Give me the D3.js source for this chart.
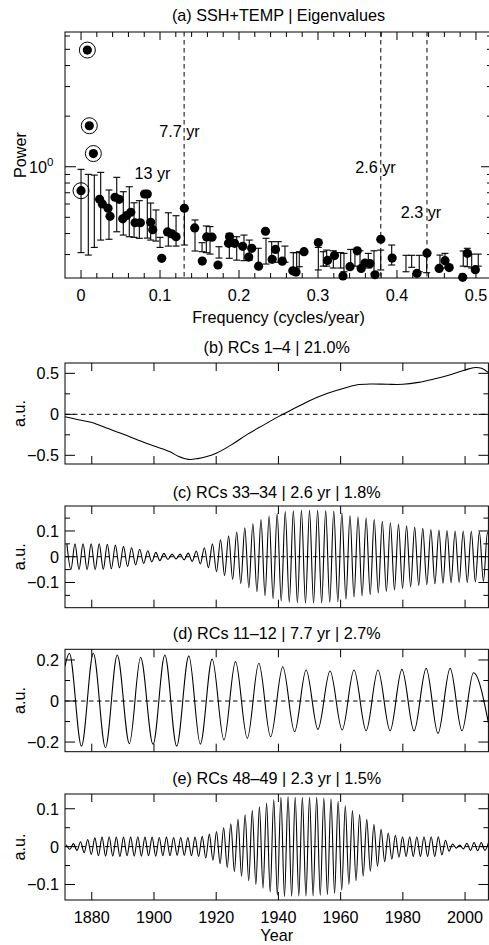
<!DOCTYPE html>
<html><head><meta charset="utf-8">
<script src="https://cdn.jsdelivr.net/npm/d3@7"></script>
<style>
html,body{margin:0;padding:0;background:#fff;}
svg{display:block;font-family:"Liberation Sans",Arial,Helvetica,sans-serif;}
</style></head><body>
<svg id="chart" width="489" height="945"></svg>
<script>
// ---------------- DATA ----------------
// (a) eigenvalue spectrum
const eigFreq  = [0.000,0.008,0.0105,0.0156,0.0235,0.0270,0.0342,0.0367,0.0430,0.0484,0.0528,0.0578,0.0630,0.0684,0.0751,0.0804,0.0839,0.0882,0.0908,0.1022,0.1095,0.1152,0.1203,0.1308,0.1439,0.1535,0.1591,0.1658,0.1734,0.1867,0.1880,0.1944,0.2047,0.2123,0.2161,0.2248,0.2335,0.2420,0.2462,0.2548,0.2681,0.2722,0.2823,0.3004,0.3120,0.3209,0.3316,0.3405,0.3497,0.3547,0.3595,0.3658,0.3722,0.3795,0.3939,0.4253,0.4380,0.4534,0.4608,0.4661,0.4832,0.4892,0.4992];
const eigPower = [0.720,4.95,1.754,1.198,0.640,0.600,0.566,0.507,0.658,0.640,0.490,0.512,0.536,0.464,0.464,0.688,0.688,0.467,0.422,0.285,0.409,0.398,0.383,0.566,0.432,0.2745,0.382,0.381,0.260,0.350,0.383,0.350,0.336,0.290,0.327,0.256,0.413,0.281,0.322,0.274,0.240,0.236,0.312,0.354,0.277,0.296,0.2236,0.254,0.316,0.248,0.267,0.265,0.2275,0.370,0.286,0.232,0.306,0.248,0.276,0.251,0.2196,0.305,0.244];
const eigCircled = [true,true,true,true];
const barFreq = [0.000,0.0092,0.0168,0.0249,0.0354,0.0452,0.0535,0.0611,0.0671,0.0738,0.0839,0.0882,0.0949,0.1000,0.1105,0.1203,0.1308,0.1443,0.1532,0.1586,0.1633,0.1747,0.1877,0.1971,0.2063,0.2130,0.2244,0.2342,0.2414,0.2497,0.2582,0.2687,0.2730,0.2763,0.3004,0.3067,0.3110,0.3194,0.3287,0.3329,0.3414,0.3468,0.3532,0.3637,0.3709,0.3794,0.3933,0.4114,0.4186,0.4282,0.4376,0.4544,0.4608,0.4839,0.4890,0.4946,0.5029];
const barLo   = [0.308,0.298,0.331,0.366,0.370,0.410,0.392,0.383,0.380,0.375,0.376,0.366,0.361,0.331,0.337,0.337,0.342,0.315,0.312,0.308,0.302,0.286,0.285,0.278,0.276,0.278,0.252,0.2635,0.271,0.270,0.270,0.239,0.2495,0.254,0.243,0.256,0.256,0.2495,0.2495,0.237,0.2495,0.256,0.253,0.2495,0.232,0.243,0.260,0.237,0.252,0.237,0.234,0.2495,0.2495,0.256,0.254,0.2495,0.256];
const barHi   = [0.965,0.901,0.892,0.926,0.727,0.865,0.710,0.760,0.610,0.628,0.707,0.608,0.553,0.380,0.532,0.511,0.568,0.482,0.353,0.444,0.440,0.334,0.401,0.383,0.392,0.366,0.327,0.375,0.358,0.358,0.337,0.308,0.308,0.312,0.331,0.312,0.319,0.316,0.308,0.305,0.322,0.322,0.316,0.305,0.316,0.319,0.342,0.297,0.297,0.297,0.308,0.298,0.305,0.315,0.327,0.302,0.302];
const periodLineFreq = [0.1305,0.3795,0.438];
const freqTickLabels = ["0","0.1","0.2","0.3","0.4","0.5"];

// (b) RCs 1-4 trend
const trendYears = [1871.4,1875,1880,1885,1890,1895,1900,1905,1908,1911,1914,1917,1920,1925,1930,1935,1940,1945,1950,1955,1960,1965,1970,1975,1980,1985,1990,1995,2000,2002.7,2005.3,2007.5];
const trendVals  = [-0.03,-0.06,-0.10,-0.17,-0.24,-0.315,-0.386,-0.455,-0.515,-0.55,-0.54,-0.515,-0.475,-0.37,-0.245,-0.135,-0.028,0.07,0.167,0.245,0.305,0.358,0.37,0.366,0.366,0.39,0.431,0.48,0.54,0.569,0.561,0.508];

// (c) RCs 33-34, extrema every half period starting at cStart
const cStart = 1872.0, cHalf = 1.3;
const cExtrema = [0.05,-0.05,0.05,-0.05,0.05,-0.05,0.05,-0.05,0.05,-0.049,
0.048,-0.047,0.045,-0.043,0.04,-0.038,0.035,-0.032,0.029,-0.026,
0.023,-0.02,0.017,-0.015,0.013,-0.011,0.01,-0.009,0.01,-0.012,
0.014,-0.018,0.022,-0.028,0.035,-0.043,0.05,-0.058,0.066,-0.073,
0.08,-0.088,0.096,-0.104,0.112,-0.12,0.128,-0.136,0.144,-0.151,
0.158,-0.163,0.168,-0.172,0.175,-0.177,0.178,-0.179,0.18,-0.18,
0.18,-0.18,0.18,-0.18,0.179,-0.178,0.177,-0.175,0.17,-0.165,
0.16,-0.157,0.155,-0.152,0.15,-0.147,0.144,-0.141,0.138,-0.135,
0.132,-0.129,0.126,-0.123,0.12,-0.117,0.115,-0.112,0.11,-0.108,
0.106,-0.105,0.104,-0.103,0.102,-0.101,0.1,-0.1,0.1,-0.1,
0.099,-0.098,0.097,-0.096,0.095,-0.095];

// (d) RCs 11-12 extrema [year, value]
const dYears = [1871.4,1872.8,1876.7,1880.5,1884.4,1888.2,1892.1,1895.7,1899.7,1903.5,1907.3,1911.2,1914.9,1918.7,1922.5,1926.2,1930.0,1933.7,1937.5,1941.4,1945.2,1948.9,1952.7,1956.6,1960.5,1964.3,1968.2,1972.0,1975.9,1979.7,1983.6,1987.5,1991.3,1995.2,1999.0,2002.7,2007.5];
const dVals  = [0.17,0.233,-0.22,0.233,-0.228,0.224,-0.208,0.213,-0.211,0.224,-0.22,0.22,-0.21,0.205,-0.19,0.192,-0.182,0.184,-0.174,0.167,-0.15,0.151,-0.138,0.146,-0.141,0.151,-0.145,0.151,-0.145,0.154,-0.146,0.159,-0.158,0.159,-0.145,0.138,-0.105];

// (e) RCs 48-49 extrema
const eStart = 1871.8, eHalf = 1.15;
const eExtrema = [0.005,-0.007,0.008,-0.01,0.013,-0.016,0.019,-0.021,0.023,-0.024,
0.025,-0.025,0.026,-0.025,0.025,-0.026,0.025,-0.024,0.025,-0.025,
0.026,-0.025,0.025,-0.024,0.025,-0.025,0.024,-0.024,0.025,-0.024,
0.024,-0.023,0.024,-0.023,0.024,-0.024,0.025,-0.026,0.027,-0.03,
0.033,-0.036,0.04,-0.045,0.05,-0.055,0.06,-0.066,0.072,-0.078,
0.084,-0.09,0.095,-0.1,0.105,-0.11,0.115,-0.12,0.124,-0.128,
0.13,-0.132,0.132,-0.131,0.13,-0.13,0.13,-0.13,0.13,-0.13,
0.13,-0.129,0.128,-0.127,0.126,-0.124,0.12,-0.115,0.108,-0.1,
0.095,-0.09,0.085,-0.078,0.072,-0.065,0.058,-0.052,0.046,-0.04,
0.036,-0.033,0.03,-0.028,0.026,-0.026,0.026,-0.026,0.026,-0.026,
0.026,-0.026,0.026,-0.026,0.026,-0.022,0.017,-0.012,0.007,-0.004,
0.004,-0.006,0.009,-0.01,0.011,-0.011,0.011,-0.01,0.01];

const yearTicks = [1880,1900,1920,1940,1960,1980,2000];

// ---------------- DRAW ----------------
const svg = d3.select("#chart");
const FS = 16.2;
const fontPx = FS + "px";
const L = 65;

function txt(g, x, y, s, anchor, rot) {
  const t = g.append("text").attr("font-size", fontPx).attr("fill", "#000")
    .attr("text-anchor", anchor || "middle").text(s);
  if (rot) t.attr("transform", `translate(${x},${y}) rotate(${rot})`);
  else t.attr("x", x).attr("y", y);
  return t;
}
function fmt(v) { return v < 0 ? "\u2212" + Math.abs(v) : String(v); }

// ---- panel (a)
(function(){
  const top = 32, bottom = 278, R = 492;
  const x = d3.scaleLinear().domain([-0.0203, 0.5203]).range([L, R]);
  const y = d3.scaleLog().domain([0.2176, 6.34]).range([bottom, top]);
  const g = svg.append("g");
  txt(g, (L+R)/2, 21, "(a) SSH+TEMP | Eigenvalues");
  g.selectAll("line.pl").data(periodLineFreq).join("line")
    .attr("x1", d => x(d)).attr("x2", d => x(d)).attr("y1", top).attr("y2", bottom)
    .attr("stroke", "#000").attr("stroke-width", 1).attr("stroke-dasharray", "4.5,3.5");
  const bars = barFreq.map((f,i) => ({f, lo: barLo[i], hi: barHi[i]}));
  const bg = g.append("g").attr("stroke", "#000").attr("stroke-width", 1.1);
  bg.selectAll("line.v").data(bars).join("line")
    .attr("x1", d => x(d.f)).attr("x2", d => x(d.f)).attr("y1", d => y(d.lo)).attr("y2", d => y(d.hi));
  bg.selectAll("line.t").data(bars).join("line")
    .attr("x1", d => x(d.f)-3.5).attr("x2", d => x(d.f)+3.5).attr("y1", d => y(d.hi)).attr("y2", d => y(d.hi));
  bg.selectAll("line.b").data(bars).join("line")
    .attr("x1", d => x(d.f)-3.5).attr("x2", d => x(d.f)+3.5).attr("y1", d => y(d.lo)).attr("y2", d => y(d.lo));
  const pts = eigFreq.map((f,i) => ({f, p: eigPower[i], c: !!eigCircled[i]}));
  g.selectAll("circle.p").data(pts).join("circle")
    .attr("cx", d => x(d.f)).attr("cy", d => y(d.p)).attr("r", 4.6).attr("fill", "#000");
  g.selectAll("circle.r").data(pts.filter(d => d.c)).join("circle")
    .attr("cx", d => x(d.f)).attr("cy", d => y(d.p)).attr("r", 8).attr("fill", "none")
    .attr("stroke", "#000").attr("stroke-width", 1);
  txt(g, 179.5, 136.7, "7.7 yr");
  txt(g, 152.5, 179, "13 yr");
  txt(g, 375.5, 173, "2.6 yr");
  txt(g, 421, 217.7, "2.3 yr");
  g.append("rect").attr("x", L).attr("y", top).attr("width", R-L).attr("height", bottom-top)
    .attr("fill", "none").attr("stroke", "#000").attr("stroke-width", 1);
  const xMaj = d3.range(0, 0.51, 0.1), xMin = d3.range(0, 0.521, 0.02);
  const tg = g.append("g").attr("stroke", "#000").attr("stroke-width", 1);
  xMin.forEach(v => {
    const len = xMaj.some(m => Math.abs(m - v) < 1e-6) ? 8 : 5;
    tg.append("line").attr("x1", x(v)).attr("x2", x(v)).attr("y1", bottom).attr("y2", bottom - len);
    tg.append("line").attr("x1", x(v)).attr("x2", x(v)).attr("y1", top).attr("y2", top + len);
  });
  xMaj.forEach((v,i) => txt(g, x(v), 301, freqTickLabels[i]));
  const yMinor = [0.3,0.4,0.5,0.6,0.7,0.8,0.9,2,3,4,5,6];
  yMinor.forEach(v => {
    tg.append("line").attr("x1", L).attr("x2", L+5).attr("y1", y(v)).attr("y2", y(v));
    tg.append("line").attr("x1", R).attr("x2", R-5).attr("y1", y(v)).attr("y2", y(v));
  });
  tg.append("line").attr("x1", L).attr("x2", L+11).attr("y1", y(1)).attr("y2", y(1));
  tg.append("line").attr("x1", R).attr("x2", R-11).attr("y1", y(1)).attr("y2", y(1));
  const lab = g.append("text").attr("font-size", fontPx).attr("text-anchor", "end")
    .attr("x", 53.5).attr("y", y(1) + 6);
  lab.append("tspan").text("10");
  lab.append("tspan").attr("font-size", "11.5px").attr("dy", -7).text("0");
  txt(g, 25.5, (top+bottom)/2, "Power", "middle", -90);
  txt(g, (L+R)/2, 322.7, "Frequency (cycles/year)");
})();

// ---- time-series panels
const R2 = 488.4;
const xYear = d3.scaleLinear().domain([1871.4, 2007.5]).range([L, R2]);

function tsPanel(cfg) {
  const {top, bottom, dom, major, minor, title, titleY, data, id} = cfg;
  const y = d3.scaleLinear().domain(dom).range([bottom, top]);
  const g = svg.append("g");
  txt(g, (L+R2)/2, titleY, title);
  g.append("clipPath").attr("id", id).append("rect")
    .attr("x", L).attr("y", top).attr("width", R2-L).attr("height", bottom-top);
  g.append("line").attr("x1", L).attr("x2", R2).attr("y1", y(0)).attr("y2", y(0))
    .attr("stroke", "#000").attr("stroke-width", 1).attr("stroke-dasharray", "4.5,3.5");
  const line = d3.line().x(d => xYear(d[0])).y(d => y(d[1])).curve(cfg.curve);
  g.append("path").attr("clip-path", `url(#${id})`).datum(data).attr("d", line)
    .attr("fill", "none").attr("stroke", "#000").attr("stroke-width", 1.1);
  g.append("rect").attr("x", L).attr("y", top).attr("width", R2-L).attr("height", bottom-top)
    .attr("fill", "none").attr("stroke", "#000").attr("stroke-width", 1);
  const tg = g.append("g").attr("stroke", "#000").attr("stroke-width", 1);
  yearTicks.forEach(v => {
    tg.append("line").attr("x1", xYear(v)).attr("x2", xYear(v)).attr("y1", top).attr("y2", top + 8);
    tg.append("line").attr("x1", xYear(v)).attr("x2", xYear(v)).attr("y1", bottom).attr("y2", bottom - 8);
  });
  major.forEach(v => {
    tg.append("line").attr("x1", L).attr("x2", L+10).attr("y1", y(v)).attr("y2", y(v));
    tg.append("line").attr("x1", R2).attr("x2", R2-10).attr("y1", y(v)).attr("y2", y(v));
    txt(g, 59, y(v) + 6, fmt(v), "end");
  });
  minor.forEach(v => {
    tg.append("line").attr("x1", L).attr("x2", L+5).attr("y1", y(v)).attr("y2", y(v));
    tg.append("line").attr("x1", R2).attr("x2", R2-5).attr("y1", y(v)).attr("y2", y(v));
  });
  txt(g, 25, (top+bottom)/2, "a.u.", "middle", -90);
  if (cfg.xLabels) {
    yearTicks.forEach(v => txt(g, xYear(v), bottom + 22.7, String(v)));
    txt(g, (L+R2)/2, 941, "Year");
  }
}

tsPanel({id:"cb", top:363, bottom:464, dom:[-0.606,0.626], major:[-0.5,0,0.5], minor:[-0.25,0.25],
  title:"(b) RCs 1\u20134 | 21.0%", titleY:352.7,
  data: trendYears.map((t,i)=>[t, trendVals[i]]), curve: d3.curveCatmullRom});
tsPanel({id:"cc", top:506, bottom:607.7, dom:[-0.198,0.197], major:[-0.1,0,0.1], minor:[-0.15,-0.05,0.05,0.15],
  title:"(c) RCs 33\u201334 | 2.6 yr | 1.8%", titleY:497.7,
  data: cExtrema.map((v,i)=>[cStart + i*cHalf, v]), curve: d3.curveMonotoneX});
tsPanel({id:"cd", top:649.3, bottom:751.7, dom:[-0.247,0.252], major:[-0.2,0,0.2], minor:[-0.1,0.1],
  title:"(d) RCs 11\u201312 | 7.7 yr | 2.7%", titleY:639.3,
  data: dYears.map((t,i)=>[t, dVals[i]]), curve: d3.curveMonotoneX});
tsPanel({id:"ce", top:794, bottom:900, dom:[-0.141,0.139], major:[-0.1,0,0.1], minor:[-0.05,0.05],
  title:"(e) RCs 48\u201349 | 2.3 yr | 1.5%", titleY:784.3,
  data: eExtrema.map((v,i)=>[eStart + i*eHalf, v]), curve: d3.curveMonotoneX, xLabels:true});
</script>
</body></html>
